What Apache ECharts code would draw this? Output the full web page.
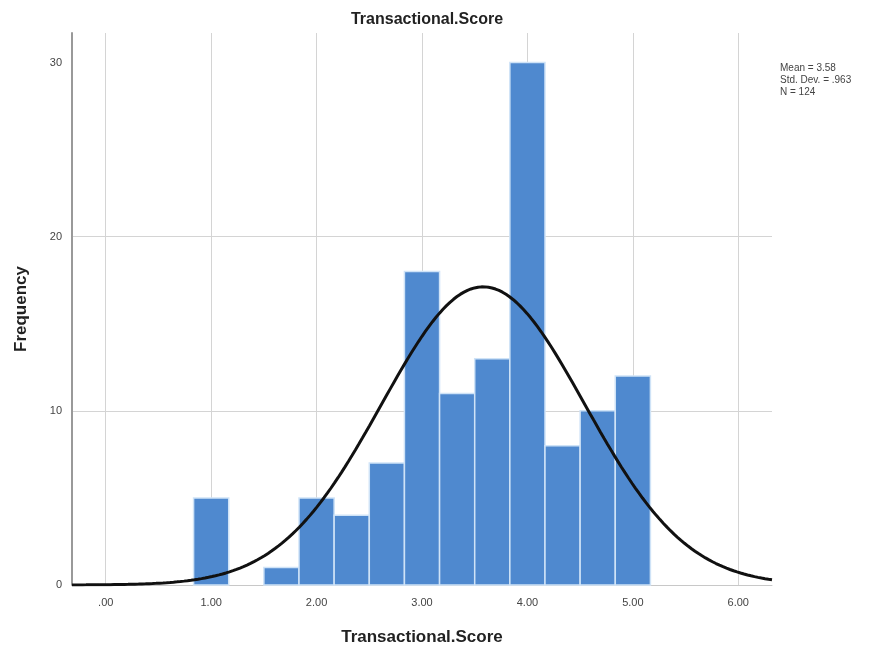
<!DOCTYPE html>
<html>
<head>
<meta charset="utf-8">
<title>Transactional.Score</title>
<script src="https://cdn.jsdelivr.net/npm/echarts@6/dist/echarts.min.js"></script>
<style>
  html, body { margin: 0; padding: 0; background: #fff; }
  #chart { width: 881px; height: 655px; }
</style>
</head>
<body>
<div id="chart"></div>
<script>
// Histogram bins: centre of each bin and its count
const binCenters = [1.0, 1.3333, 1.6667, 2.0, 2.3333, 2.6667, 3.0, 3.3333, 3.6667, 4.0, 4.3333, 4.6667, 5.0];
const binCounts  = [5, 0, 1, 5, 4, 7, 18, 11, 13, 30, 8, 10, 12];
const binWidth = 1 / 3;

// Summary statistics shown beside the plot
const statMean = 3.58;
const statStdDev = 0.963;
const statN = 124;
const statLines = ['Mean = 3.58', 'Std. Dev. = .963', 'N = 124'];

// Axis ticks
const xTickValues = [0, 1, 2, 3, 4, 5, 6];
const xTickLabels = ['.00', '1.00', '2.00', '3.00', '4.00', '5.00', '6.00'];
const yTickValues = [0, 10, 20, 30];

const xMin = -0.32, xMax = 6.32;

// Fitted normal curve scaled to the histogram's counts (N * bin width)
const curve = [];
const steps = 200;
for (let i = 0; i <= steps; i++) {
  const x = xMin + (xMax - xMin) * i / steps;
  const z = (x - statMean) / statStdDev;
  const y = statN * binWidth * Math.exp(-0.5 * z * z) / (statStdDev * Math.sqrt(2 * Math.PI));
  curve.push([x, y]);
}

const bars = binCenters.map((c, i) => [c - binWidth / 2, c + binWidth / 2, binCounts[i]]);

const chart = echarts.init(document.getElementById('chart'), null, { renderer: 'canvas' });
const font = '"Liberation Sans", Arial, sans-serif';

chart.setOption({
  animation: false,
  backgroundColor: '#ffffff',
  title: {
    text: 'Transactional.Score',
    left: 422, top: 7, textAlign: 'center',
    textStyle: { fontFamily: font, fontSize: 16, fontWeight: 'bold', color: '#222' }
  },
  graphic: [{
    type: 'text',
    left: 780, top: 62,
    style: {
      text: statLines.join('\n'),
      font: '10px ' + font,
      fill: '#444',
      lineHeight: 12
    }
  }],
  grid: { left: 72, right: 109, top: 33, bottom: 70, containLabel: false },
  xAxis: {
    type: 'value',
    min: xMin, max: xMax,
    name: 'Transactional.Score',
    nameLocation: 'middle',
    nameGap: 44,
    nameTextStyle: { fontFamily: font, fontSize: 17, fontWeight: 'bold', color: '#222' },
    axisLine: { show: true, onZero: false, lineStyle: { color: '#c8c8c8', width: 1 } },
    axisTick: { show: false, customValues: xTickValues },
    axisLabel: {
      customValues: xTickValues,
      formatter: v => xTickLabels[xTickValues.indexOf(Math.round(v))] || '',
      fontFamily: font, fontSize: 11, color: '#444', margin: 12
    },
    splitLine: { show: true, lineStyle: { color: '#d4d4d4', width: 1 } }
  },
  yAxis: {
    type: 'value',
    min: 0, max: 31.7,
    name: 'Frequency',
    nameLocation: 'middle',
    nameGap: 42,
    nameRotate: 90,
    nameTextStyle: { fontFamily: font, fontSize: 17, fontWeight: 'bold', color: '#222' },
    axisLine: { show: true, onZero: false, lineStyle: { color: '#999', width: 2 } },
    axisTick: { show: false, customValues: yTickValues },
    axisLabel: {
      customValues: yTickValues,
      fontFamily: font, fontSize: 11, color: '#444', margin: 10
    },
    splitLine: { show: true, showMaxLine: false, lineStyle: { color: '#d4d4d4', width: 1 } }
  },
  series: [
    {
      type: 'custom',
      data: bars,
      encode: { x: [0, 1], y: 2 },
      renderItem: function (params, api) {
        const count = api.value(2);
        if (!count) return null;
        const p0 = api.coord([api.value(0), count]);
        const p1 = api.coord([api.value(1), 0]);
        return {
          type: 'rect',
          shape: { x: p0[0], y: p0[1], width: p1[0] - p0[0], height: p1[1] - p0[1] },
          style: { fill: '#4f89cf', stroke: '#cfe3f7', lineWidth: 1.5 }
        };
      },
      z: 2
    },
    {
      type: 'line',
      data: curve,
      showSymbol: false,
      smooth: false,
      lineStyle: { color: '#111', width: 3 },
      z: 3
    }
  ]
});
</script>
</body>
</html>
